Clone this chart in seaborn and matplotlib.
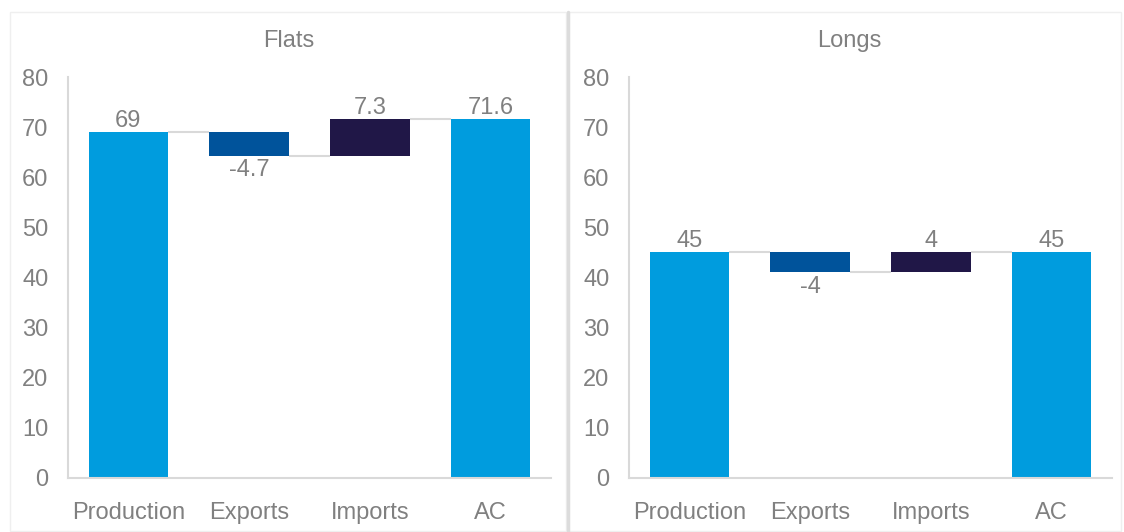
import matplotlib
matplotlib.use("Agg")
import matplotlib.pyplot as plt
from matplotlib.patches import Rectangle
from matplotlib.lines import Line2D
import seaborn as sns
import pandas as pd
import numpy as np

# Waterfall data: production, exports, imports and apparent consumption
categories = ["Production", "Exports", "Imports", "AC"]
flats_values = [69, -4.7, 7.3, 71.6]
longs_values = [45, -4, 4, 45]
flats_labels = ["69", "-4.7", "7.3", "71.6"]
longs_labels = ["45", "-4", "4", "45"]
panel_titles = ["Flats", "Longs"]
y_ticks = [0, 10, 20, 30, 40, 50, 60, 70, 80]

bar_colors = ["#009CDE", "#00539B", "#201747", "#009CDE"]
text_gray = "#808080"
line_gray = "#D9D9D9"
font_size = 17

sns.set_theme(style="white")
plt.rcParams["font.family"] = ["Liberation Sans", "DejaVu Sans"]

fig = plt.figure(figsize=(11.24, 5.32), dpi=100)

W, H = 1124, 532


def fx(px):
    return px / W


def fy(py):
    return 1 - py / H


# Panel frames
for x0, x1 in [(10, 566), (568, 1121)]:
    fig.add_artist(Rectangle((fx(x0), fy(531)), fx(x1 - x0), fy(12) - fy(531),
                             transform=fig.transFigure, fill=False,
                             edgecolor="#EFEFEF", linewidth=1.0))
fig.add_artist(Line2D([fx(567.5), fx(567.5)], [fy(12), fy(532)],
                      transform=fig.transFigure, color="#DCDCDC", linewidth=2.5))


def waterfall(ax, values, labels):
    totals_idx = {0, len(values) - 1}
    bottoms, heights = [], []
    running = 0.0
    for i, v in enumerate(values):
        if i in totals_idx:
            bottoms.append(0.0)
            heights.append(v)
            running = v
        else:
            new = running + v
            bottoms.append(min(running, new))
            heights.append(abs(v))
            running = new
    df = pd.DataFrame({"category": categories, "height": heights,
                       "bottom": bottoms})
    width = 0.66
    sns.barplot(data=df, x="category", y="height", bottom=df["bottom"].values,
                width=width, ax=ax, color=bar_colors[0], linewidth=0)
    for patch, c in zip(ax.patches, bar_colors):
        patch.set_facecolor(c)
        patch.set_edgecolor(c)

    # Connector lines between consecutive bars
    levels = []
    running = 0.0
    for i, v in enumerate(values):
        running = v if i in totals_idx else running + v
        levels.append(running)
    for i in range(len(values) - 1):
        ax.hlines(levels[i], i + width / 2, i + 1 - width / 2,
                  color=line_gray, linewidth=1.5, zorder=1)

    # Value labels
    for i, (v, lab) in enumerate(zip(values, labels)):
        top = bottoms[i] + heights[i]
        if v < 0:
            ax.text(i, bottoms[i] - 0.7, lab, ha="center", va="top",
                    fontsize=font_size, color=text_gray)
        else:
            ax.text(i, top + 0.05, lab, ha="center", va="bottom",
                    fontsize=font_size, color=text_gray)


ax_pos = [(68, 551), (629, 1112)]
value_sets = [(flats_values, flats_labels), (longs_values, longs_labels)]
title_x = [289, 849]

for (x0, x1), (vals, labs), title, tx in zip(ax_pos, value_sets, panel_titles, title_x):
    ax = fig.add_axes([fx(x0), fy(478), fx(x1 - x0), fy(77) - fy(478)])
    waterfall(ax, vals, labs)
    ax.set_ylim(0, 80)
    ax.set_xlim(-0.5, 3.5)
    ax.set_yticks(y_ticks)
    ax.set_xlabel("")
    ax.set_ylabel("")
    ax.tick_params(axis="both", length=0, labelsize=font_size, colors=text_gray)
    ax.tick_params(axis="y", pad=14)
    ax.tick_params(axis="x", pad=17)
    for side in ["top", "right"]:
        ax.spines[side].set_visible(False)
    for side in ["left", "bottom"]:
        ax.spines[side].set_color(line_gray)
        ax.spines[side].set_linewidth(1.5)
    ax.set_facecolor("none")
    fig.text(fx(tx), fy(41), title, ha="center", va="center",
             fontsize=font_size, color=text_gray)

fig.savefig("out.png", dpi=100)
